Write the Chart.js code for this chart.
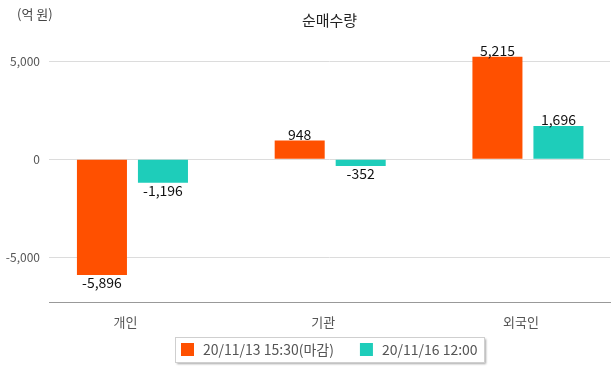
<!DOCTYPE html>
<html>
<head>
<meta charset="utf-8">
<script src="https://cdn.jsdelivr.net/npm/chart.js@4"></script>
<style>
  body { margin: 0; background: #fff; }
  #wrap { width: 615px; height: 368px; position: relative; }
</style>
</head>
<body>
<div id="wrap"><canvas id="chart"></canvas></div>
<script>
// data
const categories = ["개인", "기관", "외국인"];
const seriesNames = ["20/11/13 15:30(마감)", "20/11/16 12:00"];
const closeValues = [-5896, 948, 5215];
const noonValues = [-1196, -352, 1696];
const yTicks = [-5000, 0, 5000];

const FONT = "'Noto Sans CJK KR', 'Noto Sans', sans-serif";

const toPoints = (vals) => vals.map((v, i) => ({ x: i, y: v }));

// value labels above / below bars
const valueLabels = {
  id: "valueLabels",
  afterDatasetsDraw(chart) {
    const ctx = chart.ctx;
    ctx.save();
    ctx.font = "14px " + FONT;
    ctx.fillStyle = "#111";
    ctx.textAlign = "center";
    chart.data.datasets.forEach((ds, di) => {
      const meta = chart.getDatasetMeta(di);
      meta.data.forEach((bar, i) => {
        const v = ds.data[i].y;
        const txt = v.toLocaleString("en-US");
        ctx.textBaseline = v >= 0 ? "bottom" : "top";
        ctx.fillText(txt, bar.x, bar.y + 1);
      });
    });
    ctx.restore();
  },
};

// title, unit and boxed legend
const extras = {
  id: "extras",
  afterDraw(chart) {
    const ctx = chart.ctx;
    const area = chart.chartArea;
    const cx = (area.left + area.right) / 2;
    ctx.save();
    ctx.fillStyle = "#222";
    ctx.font = "15px " + FONT;
    ctx.textAlign = "center";
    ctx.textBaseline = "middle";
    ctx.fillText("순매수량", cx, 20);
    ctx.fillStyle = "#444";
    ctx.font = "13px " + FONT;
    ctx.textAlign = "left";
    ctx.fillText("(억 원)", 17, 14);

    // legend
    ctx.font = "14px " + FONT;
    const items = chart.data.datasets.map((ds) => ({
      text: ds.label,
      color: ds.backgroundColor,
      w: 13 + 9 + ctx.measureText(ds.label).width,
    }));
    const gap = 26, padL = 6, padR = 6;
    const inner = items.reduce((s, it) => s + it.w, 0) + gap * (items.length - 1);
    const boxW = Math.round(inner + padL + padR);
    const boxX = Math.round(cx - boxW / 2);
    const boxY = 337, boxH = 25;

    ctx.save();
    ctx.shadowColor = "rgba(0,0,0,0.35)";
    ctx.shadowOffsetX = 1.5;
    ctx.shadowOffsetY = 1.5;
    ctx.shadowBlur = 2;
    ctx.fillStyle = "#fff";
    ctx.fillRect(boxX, boxY, boxW, boxH);
    ctx.restore();
    ctx.strokeStyle = "#cfcfcf";
    ctx.lineWidth = 1;
    ctx.strokeRect(boxX + 0.5, boxY + 0.5, boxW, boxH);

    let x = boxX + padL;
    const midY = boxY + boxH / 2;
    items.forEach((it) => {
      ctx.fillStyle = it.color;
      ctx.fillRect(x, Math.round(midY - 6.5), 13, 13);
      ctx.fillStyle = "#555";
      ctx.textBaseline = "middle";
      ctx.fillText(it.text, x + 22, midY);
      x += it.w + gap;
    });
    ctx.restore();
  },
};

new Chart(document.getElementById("chart"), {
  type: "bar",
  data: {
    datasets: [
      {
        label: seriesNames[0],
        data: toPoints(closeValues),
        backgroundColor: "#ff5000",
      },
      {
        label: seriesNames[1],
        data: toPoints(noonValues),
        backgroundColor: "#1ecdba",
      },
    ],
  },
  options: {
    responsive: true,
    maintainAspectRatio: false,
    animation: false,
    categoryPercentage: 0.617,
    barPercentage: 0.82,
    layout: { padding: { top: 30, right: 5, left: 0, bottom: 34 } },
    plugins: {
      title: { display: false },
      tooltip: { enabled: false },
      legend: { display: false },
    },
    scales: {
      x: {
        type: "linear",
        offset: false,
        min: -0.422,
        max: 2.415,
        grid: { display: false, offset: false },
        border: { display: true, color: "#999" },
        ticks: {
          stepSize: 1,
          includeBounds: false,
          autoSkip: false,
          maxRotation: 0,
          padding: 4,
          labelOffset: -7,
          color: "#555",
          font: { family: FONT, size: 13 },
          callback: (v) => categories[v] ?? "",
        },
      },
      y: {
        min: -7296,
        max: 6580,
        afterFit: (scale) => { scale.width = 49; },
        afterBuildTicks: (scale) => {
          scale.ticks = yTicks.map((v) => ({ value: v }));
        },
        grid: { color: "#dcdcdc", drawTicks: false },
        border: { display: false },
        ticks: {
          padding: 9,
          color: "#555",
          font: { family: FONT, size: 12 },
          callback: (v) => v.toLocaleString("en-US"),
        },
      },
    },
  },
  plugins: [valueLabels, extras],
});
</script>
</body>
</html>
